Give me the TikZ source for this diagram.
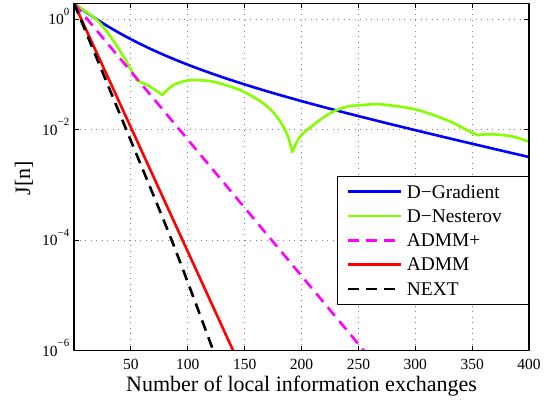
\documentclass[tikz,border=0pt]{standalone}
\usepackage{fontspec}
\setmainfont{Liberation Serif}
\usetikzlibrary{calc}
\definecolor{dgradient}{RGB}{  0,   0, 255}
\definecolor{dnesterov}{RGB}{133, 255,   0}
\definecolor{admmplus}{RGB}{255,   0, 255}
\definecolor{admmred}{RGB}{255,   0,   0}
\definecolor{gridgray}{RGB}{130, 130, 130}
\newcommand{\tickfont}{\fontsize{15.5}{18}\selectfont}
\newcommand{\labelfont}{\fontsize{22}{26}\selectfont}
\newcommand{\legfont}{\fontsize{19.4}{23}\selectfont}
\newcommand{\decade}[1]{10\raisebox{9.5pt}{\fontsize{11}{12}\selectfont #1}}

\begin{document}
\begin{tikzpicture}[x=1pt, y=1pt, line join=round,
	curve/.style={line width=2.6pt},
	dashcurve/.style={line width=2.6pt, dash pattern=on 11pt off 7pt},
	gridline/.style={gridgray, line width=0.8pt, dash pattern=on 1pt off 4.5pt}]
	\useasboundingbox (0,0) rectangle (556,401);

	\begin{scope}[shift={(74,50.2)}, x=1.1375pt, y=55.25pt]
		% grid
		\foreach \n in {50,100,...,350}{
			\draw[gridline] (\n,0) -- (\n,6.29);
		}
		\foreach \dec in {2,4,6}{
			\draw[gridline] (0,\dec) -- (400,\dec);
		}

		% curves
		\begin{scope}
			\clip (0,0) rectangle (400,6.29);
			\draw[curve, dgradient] plot[domain=0:400, samples=120]
				(\x, {6.29 - 0.0047*\x - 0.91*(1-exp(-\x/82))});
			\draw[curve, dnesterov] plot[smooth] coordinates {(0,6.29) (20,5.99) (32,5.69) (44,5.31) (55,4.90)}
				-- plot[smooth] coordinates {(55,4.90) (67,4.78) (77.6,4.63)}
				-- plot[smooth] coordinates {(77.6,4.63) (87.3,4.81) (99.1,4.89) (108,4.90) (122.5,4.87)
					(146,4.72) (166.4,4.48) (178.2,4.24) (187,3.94) (191.9,3.60)}
				-- plot[smooth] coordinates {(191.9,3.60) (198.7,3.875) (210.4,4.087) (225.1,4.299)
					(239.7,4.418) (254.3,4.449) (269,4.462) (299.8,4.371) (327.6,4.177) (348.1,3.966) (354,3.906)}
				-- plot[smooth] coordinates {(354,3.906) (368.6,3.919) (386.2,3.875) (400,3.785)};
			\draw[dashcurve, admmplus] (0,6.29) -- (255,0);
			\draw[curve, admmred] (0,6.29) -- (140,0);
			\draw[dashcurve, black] plot[smooth] coordinates {(0,6.29) (43,4.15) (85.9,2.0) (122.5,0)};
		\end{scope}

		% box and ticks
		\draw[line width=1.3pt] (0,0) rectangle (400,6.29);
		\foreach \n in {50,100,...,350}{
			\draw[line width=0.9pt] (\n,0) -- ++(0pt,5pt);
			\draw[line width=0.9pt] (\n,6.29) -- ++(0pt,-5pt);
		}
		\foreach \dec in {2,4,6}{
			\draw[line width=0.9pt] (0,\dec) -- ++(5pt,0pt);
			\draw[line width=0.9pt] (400,\dec) -- ++(-5pt,0pt);
		}

		% tick labels
		\foreach \n in {50,100,...,400}{
			\node[anchor=base, inner sep=0pt, yshift=-18.7pt] (xt\n) at (\n,0) {\tickfont \n};
		}
		\foreach \dec/\e in {6/0, 4/−2, 2/−4, 0/−6}{
			\node[anchor=base east, inner sep=0pt, xshift=-4.5pt, yshift=-5.5pt] (yt\dec) at (0,\dec) {\tickfont\decade{\e}};
		}
	\end{scope}

	% axis labels
	\node[anchor=base, inner sep=0pt] (xlabel) at (301.5,9.3) {\labelfont Number of local information exchanges};
	\node[rotate=90, inner sep=0pt] (ylabel) at (24,223) {\labelfont J[n]};

	% legend
	\draw[fill=white, line width=1pt] (337.5,96) rectangle (528.5,224.3);
	\foreach \y/\c/\s/\t in {
		209.3/dgradient/curve/D−Gradient,
		185.0/dnesterov/curve/D−Nesterov,
		160.7/admmplus/dashcurve/ADMM+,
		136.4/admmred/curve/ADMM,
		112.1/black/dashcurve/NEXT
	}{
		\draw[\s, \c, dash phase=0pt] (348.3,\y) -- (401,\y);
		\node[anchor=base west, inner sep=0pt, yshift=-6.4pt] (leg\t) at (406.7,\y) {\legfont \t};
	}
\end{tikzpicture}
\end{document}
